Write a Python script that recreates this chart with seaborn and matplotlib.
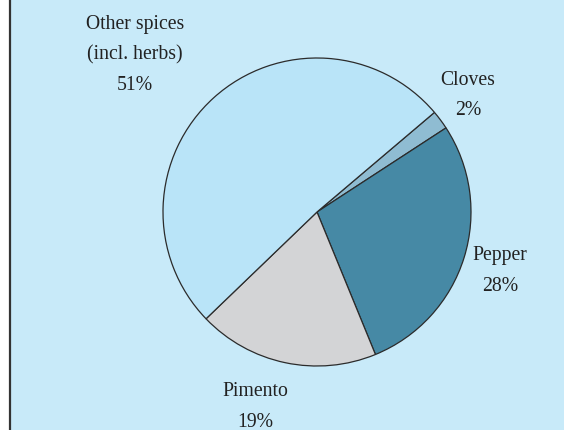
import matplotlib
matplotlib.use("Agg")
import matplotlib.pyplot as plt
from matplotlib.patches import Rectangle
import seaborn as sns

sns.set_theme(style="white")
plt.rcParams["font.family"] = ["Liberation Serif", "DejaVu Serif"]

# Share of spice imports by type
categories = ["Cloves", "Pepper", "Pimento", "Other spices\n(incl. herbs)"]
shares = [2, 28, 19, 51]
colors = ["#8fbcd2", "#4689a5", "#d3d4d6", "#b9e4f8"]
# label anchor points (pie radius = 1)
label_x = [0.98, 1.19, -0.40, -1.18]
label_y = [0.765, -0.377, -1.26, 1.027]

W, H, dpi = 564, 431, 100
fig = plt.figure(figsize=(W / dpi, H / dpi), dpi=dpi)
fig.patch.set_facecolor("white")

ax = fig.add_axes([0, 0, 1, 1])
ax.axis("off")

# light blue panel with a dark rule on its left edge
x0 = 10 / W
ax.add_patch(Rectangle((x0, 0), 1 - x0, 1, transform=ax.transAxes,
                       facecolor="#c8eaf9", edgecolor="none", zorder=-10))
ax.plot([x0, x0], [0, 1], transform=ax.transAxes, color="#333333",
        linewidth=1.6, zorder=-9, solid_capstyle="butt")

ax.pie(shares, colors=colors, startangle=40.3, counterclock=False,
       radius=1.0, center=(0, 0),
       wedgeprops=dict(edgecolor="#2b2b2b", linewidth=0.9))

scale = 154.0
cx, cy = 317.0, 213.0
ax.set_xlim(-cx / scale, (W - cx) / scale)
ax.set_ylim(-(H - cy) / scale, cy / scale)
ax.set_aspect("equal")

for name, val, lx, ly in zip(categories, shares, label_x, label_y):
    ax.text(lx, ly, f"{name}\n{val}%", ha="center", va="center",
            fontsize=14.2, color="#222222", linespacing=1.8)

fig.savefig("out.png", dpi=dpi)
